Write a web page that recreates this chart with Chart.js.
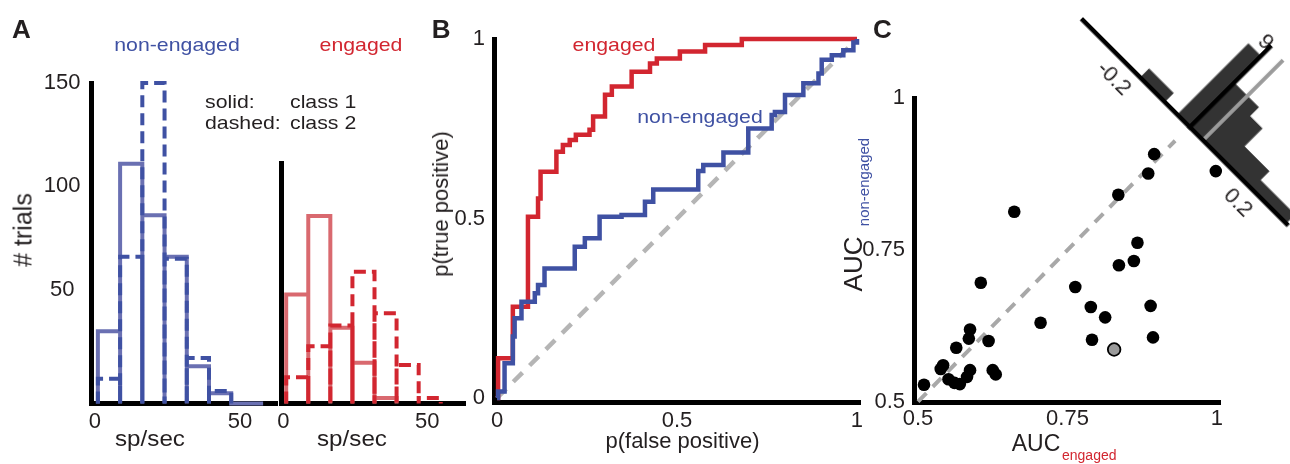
<!DOCTYPE html>
<html>
<head>
<meta charset="utf-8">
<script src="https://cdn.jsdelivr.net/npm/chart.js@4.4.1/dist/chart.umd.min.js"></script>
<style>
html,body{margin:0;padding:0;background:#fff;overflow:hidden;}
#fig{position:relative;width:1290px;height:464px;overflow:hidden;background:#fff;font-family:"Liberation Sans",Arial,Helvetica,sans-serif;}
canvas.full{position:absolute;left:0;top:0;}
#insetWrap{position:absolute;width:400px;height:200px;}
.t{position:absolute;white-space:nowrap;line-height:1;}
</style>
</head>
<body>
<div id="fig">
  <canvas id="cA1" class="full" width="1290" height="464"></canvas>
  <canvas id="cA2" class="full" width="1290" height="464"></canvas>
  <canvas id="cB" class="full" width="1290" height="464"></canvas>
  <canvas id="cC" class="full" width="1290" height="464"></canvas>
  <div id="insetWrap"><canvas id="cIn" width="400" height="200"></canvas></div>
</div>
<script>
// ---------------- DATA ----------------
// Panel A: spike-count histograms (bin edges in sp/sec, counts in # trials)
const binEdges = [1, 8.67, 16.33, 24, 31.67, 39.33, 47, 54.67];
const nonEngagedClass1 = [30, 111, 86, 66, 13, 0];      // solid
const nonEngagedClass2 = [7, 66, 150, 65, 17, 1];       // dashed
const engagedClass1 = [50, 88, 34, 17, 0];              // solid
const engagedClass2 = [10, 25, 35, 61, 41, 16, 0];      // dashed
const nonEngagedTailEnd = 58;
const histXTicks = [0, 50];
const histXTickLabels = ['0', '50'];
const histYTicks = [50, 100, 150];
const histYTickLabels = ['50', '100', '150'];

// Panel B: ROC curves
const rocEngagedFP = [0, 0.003, 0.044, 0.086, 0.114, 0.121, 0.165, 0.183, 0.202, 0.219, 0.257, 0.267, 0.300, 0.319, 0.374, 0.425, 0.444, 0.508, 0.578, 0.680, 1];
const rocEngagedTP = [0, 0.111, 0.254, 0.505, 0.556, 0.630, 0.686, 0.705, 0.719, 0.733, 0.747, 0.784, 0.845, 0.868, 0.909, 0.932, 0.946, 0.965, 0.983, 1.0, 1];
const rocNonEngagedFP = [0, 0.003, 0.021, 0.044, 0.049, 0.068, 0.105, 0.114, 0.132, 0.216, 0.244, 0.285, 0.346, 0.411, 0.434, 0.559, 0.573, 0.629, 0.698, 0.763, 0.772, 0.800, 0.851, 0.893, 0.902, 0.930, 0.962, 0.99, 1];
const rocNonEngagedTP = [0, 0.018, 0.097, 0.171, 0.222, 0.268, 0.292, 0.315, 0.361, 0.421, 0.445, 0.505, 0.510, 0.547, 0.581, 0.632, 0.649, 0.684, 0.751, 0.788, 0.797, 0.844, 0.877, 0.904, 0.942, 0.955, 0.969, 0.99, 1];
const chanceLine = [0, 1];
const rocTicks = [0, 0.5, 1];
const rocTickLabels = ['0', '0.5', '1'];

// Panel C: AUC per neuron
const aucEngaged    = [0.895, 0.885, 0.998, 0.835, 0.661, 0.867, 0.861, 0.836, 0.605, 0.763, 0.789, 0.889, 0.813, 0.705, 0.587, 0.585, 0.618, 0.791, 0.893, 0.828, 0.564, 0.542, 0.538, 0.587, 0.582, 0.551, 0.561, 0.570, 0.625, 0.630, 0.510];
const aucNonEngaged = [0.908, 0.876, 0.880, 0.841, 0.813, 0.762, 0.732, 0.725, 0.696, 0.689, 0.656, 0.658, 0.639, 0.630, 0.619, 0.604, 0.600, 0.602, 0.606, 0.586, 0.589, 0.560, 0.554, 0.552, 0.541, 0.537, 0.531, 0.529, 0.552, 0.545, 0.528];
const highlightIndex = 19;
const aucDiagonal = [0.5, 0.93];
const aucTicks = [0.5, 0.75, 1];
const aucTickLabels = ['0.5', '0.75', '1'];

// Inset: histogram of AUC differences
const diffEdges = [-0.16, -0.12, -0.08, -0.04, 0, 0.04, 0.08, 0.12, 0.16, 0.2, 0.24, 0.28, 0.32];
const diffCounts = [1, 1, 0, 8, 5, 5, 4, 2, 2, 1, 1, 1];
const diffMean = 0.043;
const diffXTicks = [-0.2, 0.2];
const diffXTickLabels = ['-0.2', '0.2'];
const diffYTicks = [9];
const diffYTickLabels = ['9'];

// ---------------- STYLE / LAYOUT ----------------
const TXT = '#231f20';
const FONT = "'Liberation Sans', Arial, Helvetica, sans-serif";
const W = 1290, H = 464, YW = 60, XH = 40;
const BLUE_SOLID = '#6a70b2', BLUE_DASH = '#3f51a3', RED_SOLID = '#d9696f', RED_DASH = '#d22630';
const BLUE = '#3f51a3', RED = '#d22630';

function tickLabel(vals, labels, v) {
  const i = vals.findIndex(t => Math.abs(t - v) < 1e-9);
  return i < 0 ? '' : labels[i];
}
function makeScale(o) {
  const isX = o.axis === 'x';
  const bw = o.bw || 5;
  return {
    type: 'linear', min: o.min, max: o.max,
    position: o.position || (isX ? 'bottom' : 'left'),
    grid: {display: false, drawTicks: false, lineWidth: bw},
    border: {display: true, color: '#000', width: bw, z: o.bz || 0},
    afterBuildTicks: s => { s.ticks = o.vals.map(v => ({value: v})); },
    afterFit: s => { if (isX) s.height = (o.size ?? XH); else s.width = (o.size ?? YW); },
    ticks: {
      display: o.vals.length > 0, padding: o.pad || 0, color: TXT,
      font: {family: FONT, size: o.fs || 22}, crossAlign: o.cross || 'near',
      maxRotation: 0, minRotation: 0, autoSkip: false,
      callback: v => tickLabel(o.vals, o.labels, v)
    }
  };
}
function chartOpts(area, xs, ys, cw, ch, yw, xh) {
  return {
    responsive: false, maintainAspectRatio: false, animation: false, events: [], devicePixelRatio: 1,
    layout: {padding: {left: area.l - yw, right: cw - area.r, top: area.t, bottom: ch - area.b - xh}},
    plugins: {legend: {display: false}, tooltip: {enabled: false}, title: {display: false}},
    elements: {point: {radius: 0}, line: {tension: 0}},
    scales: {x: xs, y: ys}
  };
}
function outline(counts, base, tailEnd) {
  const pts = [{x: binEdges[0], y: base}];
  counts.forEach((c, i) => {
    pts.push({x: binEdges[i], y: c}, {x: binEdges[i + 1], y: c}, {x: binEdges[i + 1], y: base});
  });
  if (tailEnd !== undefined) pts.push({x: tailEnd, y: base});
  return pts;
}
function lineDs(data, color, dash, width, extra) {
  return Object.assign({data, borderColor: color, borderDash: dash || [], borderWidth: width || 4,
    pointRadius: 0, fill: false, tension: 0, clip: false, borderJoinStyle: 'miter'}, extra || {});
}

// ---------------- PANEL A (non-engaged) ----------------
const A1 = {l: 91.5, r: 275, t: 83, b: 403.5};
const A1y = {min: -5, max: 150};
new Chart(document.getElementById('cA1'), {
  type: 'line',
  data: {datasets: [
    lineDs(outline(nonEngagedClass2, A1y.min), BLUE_DASH, [12, 6], 4),
    lineDs(outline(nonEngagedClass1, A1y.min, nonEngagedTailEnd), BLUE_SOLID, [], 4)
  ]},
  options: chartOpts(A1,
    makeScale({axis: 'x', min: -1.2, max: 62.1, vals: histXTicks, labels: histXTickLabels, pad: 5}),
    makeScale({axis: 'y', min: A1y.min, max: A1y.max, vals: histYTicks, labels: histYTickLabels, pad: 11, cross: 'center'}),
    W, H, YW, XH)
});

// ---------------- PANEL A (engaged) ----------------
const A2 = {l: 281, r: 463.3, t: 163, b: 403.5};
const A2y = {min: -2.66, max: 113.6};
new Chart(document.getElementById('cA2'), {
  type: 'line',
  data: {datasets: [
    lineDs(outline(engagedClass2, A2y.min), RED_DASH, [12, 6], 4),
    lineDs(outline(engagedClass1, A2y.min), RED_SOLID, [], 4)
  ]},
  options: chartOpts(A2,
    makeScale({axis: 'x', min: -0.8, max: 62.5, vals: histXTicks, labels: histXTickLabels, pad: 5}),
    makeScale({axis: 'y', min: A2y.min, max: A2y.max, vals: [], labels: []}),
    W, H, YW, XH)
});

// ---------------- PANEL B (ROC) ----------------
const Bar = {l: 494, r: 858, t: 39, b: 402.5};
const toPts = (xs, ys) => xs.map((x, i) => ({x, y: ys[i]}));
new Chart(document.getElementById('cB'), {
  type: 'line',
  data: {datasets: [
    lineDs(toPts(rocNonEngagedFP, rocNonEngagedTP), BLUE, [], 4.5, {stepped: 'before'}),
    lineDs(toPts(rocEngagedFP, rocEngagedTP), RED, [], 4.5, {stepped: 'before'}),
    lineDs(toPts(chanceLine, chanceLine), '#b5b5b5', [13, 10], 4.5)
  ]},
  options: chartOpts(Bar,
    makeScale({axis: 'x', min: -0.00833, max: 1.0028, vals: rocTicks, labels: rocTickLabels, pad: 5}),
    makeScale({axis: 'y', min: -0.0125, max: 1, vals: rocTicks, labels: rocTickLabels, pad: 9}),
    W, H, YW, XH)
});

// ---------------- PANEL C (AUC scatter) ----------------
const Car = {l: 914, r: 1218.3, t: 98.3, b: 402.5};
new Chart(document.getElementById('cC'), {
  type: 'scatter',
  data: {datasets: [
    {data: toPts(aucEngaged, aucNonEngaged), showLine: false, clip: false,
     pointRadius: 6.3,
     pointBackgroundColor: c => c.dataIndex === highlightIndex ? '#9a9a9a' : '#000',
     pointBorderColor: '#000',
     pointBorderWidth: c => c.dataIndex === highlightIndex ? 1.8 : 0},
    Object.assign(lineDs(toPts(aucDiagonal, aucDiagonal), '#a8a8a8', [12, 9], 4), {showLine: true, type: 'scatter'})
  ]},
  options: chartOpts(Car,
    makeScale({axis: 'x', min: 0.4933, max: 1.0022, vals: aucTicks, labels: aucTickLabels, pad: 3}),
    makeScale({axis: 'y', min: 0.4987, max: 1, vals: aucTicks, labels: aucTickLabels, pad: 9}),
    W, H, YW, XH)
});

// ---------------- INSET (rotated histogram) ----------------
const IN = {l: 60, r: 347.8, t: 40, b: 153};
const diffPts = [{x: diffEdges[0], y: 0}];
diffCounts.forEach((c, i) => { diffPts.push({x: diffEdges[i], y: c}, {x: diffEdges[i + 1], y: c}); });
diffPts.push({x: diffEdges[diffEdges.length - 1], y: 0});
const inX = makeScale({axis: 'x', min: -0.344, max: 0.3116, vals: diffXTicks, labels: diffXTickLabels, pad: 7, bw: 4.5, bz: 1});
const inY = makeScale({axis: 'y', min: 0, max: 9, vals: diffYTicks, labels: diffYTickLabels, pad: 12, bw: 4.5, bz: 1, size: 0, position: {x: 0}});
new Chart(document.getElementById('cIn'), {
  type: 'line',
  data: {datasets: [
    lineDs([{x: diffMean, y: 0}, {x: diffMean, y: 9}], '#9b9b9b', [], 4),
    {data: diffPts, borderWidth: 0, pointRadius: 0, fill: 'origin', backgroundColor: '#333333', tension: 0}
  ]},
  options: chartOpts(IN, inX, inY, 400, 200, 0, XH)
});
const wrap = document.getElementById('insetWrap');
wrap.style.left = (1083 - IN.l) + 'px';
wrap.style.top = (20 - IN.b) + 'px';
wrap.style.transformOrigin = IN.l + 'px ' + IN.b + 'px';
wrap.style.transform = 'rotate(45deg)';

// ---------------- TEXT ----------------
const fig = document.getElementById('fig');
function addText(t) {
  const d = document.createElement('div');
  d.className = 't';
  d.textContent = t.s;
  d.style.fontSize = t.fs + 'px';
  if (t.bold) d.style.fontWeight = 'bold';
  d.style.color = t.c || TXT;
  const sx = t.sx || 1;
  if (t.rot) {
    d.style.left = (t.x - 0.3465 * t.fs) + 'px';
    d.style.top = t.y + 'px';
    d.style.transform = 'translate(-50%,-50%) rotate(-90deg) scaleX(' + sx + ')';
  } else {
    d.style.top = (t.y - 0.8465 * t.fs) + 'px';
    d.style.left = t.x + 'px';
    if (t.a === 'c') d.style.transform = 'translateX(-50%) scaleX(' + sx + ')';
    else { d.style.transformOrigin = 'left center'; d.style.transform = 'scaleX(' + sx + ')'; }
  }
  fig.appendChild(d);
}
[
  {s: 'A', x: 12, y: 38.3, fs: 26, bold: true},
  {s: 'B', x: 431.7, y: 38.3, fs: 26, bold: true},
  {s: 'C', x: 873, y: 38, fs: 26, bold: true},
  {s: 'non-engaged', x: 176.7, y: 51.5, fs: 19, a: 'c', c: BLUE, sx: 1.12},
  {s: 'engaged', x: 360.5, y: 51.5, fs: 19, a: 'c', c: RED, sx: 1.12},
  {s: 'solid:', x: 205, y: 107.7, fs: 19, sx: 1.12},
  {s: 'class 1', x: 290, y: 107.7, fs: 19, sx: 1.12},
  {s: 'dashed:', x: 205, y: 129, fs: 19, sx: 1.12},
  {s: 'class 2', x: 290, y: 129, fs: 19, sx: 1.12},
  {s: '# trials', x: 32, y: 230, fs: 25, rot: true},
  {s: 'sp/sec', x: 150, y: 447, fs: 22, a: 'c', sx: 1.1},
  {s: 'sp/sec', x: 351.7, y: 447, fs: 22, a: 'c', sx: 1.1},
  {s: 'engaged', x: 614.3, y: 51, fs: 19, a: 'c', c: RED, sx: 1.12},
  {s: 'non-engaged', x: 700, y: 123, fs: 19, a: 'c', c: BLUE, sx: 1.12},
  {s: 'p(true positive)', x: 449, y: 204, fs: 22, rot: true},
  {s: 'p(false positive)', x: 682.5, y: 449, fs: 22, a: 'c'},
  {s: 'AUC', x: 1011.7, y: 451.7, fs: 23},
  {s: 'engaged', x: 1062, y: 460, fs: 14, c: RED},
  {s: 'AUC', x: 861.7, y: 264.2, fs: 26, rot: true},
  {s: 'non-engaged', x: 868, y: 181.7, fs: 15, rot: true, c: BLUE}
].forEach(addText);
</script>
</body>
</html>
